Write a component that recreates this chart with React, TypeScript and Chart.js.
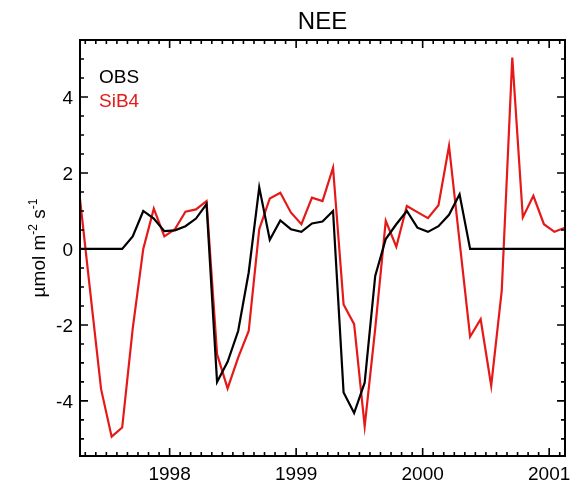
import React, { useEffect, useRef } from "react";
import { Chart, registerables } from "chart.js";

Chart.register(...registerables);

const months = [
  "1997-04", "1997-05", "1997-06", "1997-07", "1997-08", "1997-09", "1997-10", "1997-11", "1997-12",
  "1998-01", "1998-02", "1998-03", "1998-04", "1998-05", "1998-06", "1998-07", "1998-08", "1998-09", "1998-10", "1998-11", "1998-12",
  "1999-01", "1999-02", "1999-03", "1999-04", "1999-05", "1999-06", "1999-07", "1999-08", "1999-09", "1999-10", "1999-11", "1999-12",
  "2000-01", "2000-02", "2000-03", "2000-04", "2000-05", "2000-06", "2000-07", "2000-08", "2000-09", "2000-10", "2000-11", "2000-12",
  "2001-01", "2001-02",
];

const obs = [
  0, 0, 0, 0, 0, 0.33, 1.0, 0.8, 0.47,
  0.49, 0.6, 0.8, 1.18, -3.5, -2.97, -2.16, -0.62, 1.62, 0.24, 0.75, 0.52,
  0.45, 0.67, 0.72, 1.0, -3.78, -4.32, -3.52, -0.71, 0.26, 0.65, 1.0, 0.56,
  0.45, 0.6, 0.9, 1.44, 0, 0, 0, 0, 0, 0, 0, 0,
  0, 0,
];

const sib4 = [
  1.31, -1.2, -3.69, -4.94, -4.7, -2.1, 0.0, 1.06, 0.33,
  0.52, 0.98, 1.04, 1.26, -2.77, -3.67, -2.86, -2.16, 0.52, 1.33, 1.48, 0.96,
  0.65, 1.35, 1.26, 2.14, -1.46, -1.98, -4.67, -2.1, 0.74, 0.06, 1.13, 0.97,
  0.81, 1.15, 2.71, 0.2, -2.31, -1.85, -3.6, -1.1, 5.04, 0.83, 1.4, 0.65,
  0.45, 0.56,
];

const xTickLabels = ["1998", "1999", "2000", "2001"];
const yTickLabels = ["-4", "-2", "0", "2", "4"];

const seriesNames = ["OBS", "SiB4"];
const RED = "#e61919";
const FONT = '"Liberation Sans", Arial, Helvetica, sans-serif';

function toYear(m: string): number {
  const [y, mo] = m.split("-").map(Number);
  return y + (mo - 1 + 0.5) / 12;
}

const framePlugin = {
  id: "idlFrame",
  beforeDraw(chart: any) {
    const ctx = chart.ctx;
    ctx.save();
    ctx.fillStyle = "#ffffff";
    ctx.fillRect(0, 0, chart.width, chart.height);
    ctx.restore();
  },
  afterDatasetsDraw(chart: any) {
    const ctx = chart.ctx as CanvasRenderingContext2D;
    const { left, right, top, bottom } = chart.chartArea;
    const xs = chart.scales.x;
    const ys = chart.scales.y;
    ctx.save();
    ctx.strokeStyle = "#000";
    ctx.lineWidth = 2;
    ctx.lineCap = "butt";
    ctx.strokeRect(left, top, right - left, bottom - top);

    const major = 8;
    const minor = 4;
    ctx.lineWidth = 1.6;
    ctx.beginPath();
    // x ticks (monthly minor, yearly major)
    for (let yr = 1997; yr <= 2001; yr++) {
      for (let m = 0; m < 12; m++) {
        const v = yr + m / 12;
        if (v < xs.min - 1e-6 || v > xs.max + 1e-6) continue;
        const px = xs.getPixelForValue(v);
        const len = m === 0 ? major : minor;
        ctx.moveTo(px, bottom);
        ctx.lineTo(px, bottom - len);
        ctx.moveTo(px, top);
        ctx.lineTo(px, top + len);
      }
    }
    // y ticks (0.5 minor, 2 major)
    for (let i = -12; i <= 12; i++) {
      const v = i * 0.5;
      if (v < ys.min - 1e-6 || v > ys.max + 1e-6) continue;
      const py = ys.getPixelForValue(v);
      const len = i % 4 === 0 ? major : minor;
      ctx.moveTo(left, py);
      ctx.lineTo(left + len, py);
      ctx.moveTo(right, py);
      ctx.lineTo(right - len, py);
    }
    ctx.stroke();

    // tick labels
    ctx.fillStyle = "#000";
    ctx.font = `19px ${FONT}`;
    ctx.textAlign = "center";
    ctx.textBaseline = "alphabetic";
    xTickLabels.forEach((t) => {
      const px = xs.getPixelForValue(Number(t));
      ctx.fillText(t, px, bottom + 24);
    });
    ctx.textAlign = "right";
    yTickLabels.forEach((t) => {
      const py = ys.getPixelForValue(Number(t));
      ctx.fillText(t, left - 7, py + 7);
    });

    // title
    ctx.textAlign = "center";
    ctx.font = `24px ${FONT}`;
    ctx.fillText("NEE", (left + right) / 2, 29);

    // legend
    ctx.textAlign = "left";
    ctx.font = `19px ${FONT}`;
    ctx.fillStyle = "#000";
    ctx.fillText(seriesNames[0], left + 19, 83);
    ctx.fillStyle = RED;
    ctx.fillText(seriesNames[1], left + 19, 107);

    // y axis title with superscripts
    ctx.fillStyle = "#000";
    const parts: [string, boolean][] = [
      ["\u00b5mol m", false],
      ["-2", true],
      [" s", false],
      ["-1", true],
    ];
    const big = `19px ${FONT}`;
    const small = `12px ${FONT}`;
    let total = 0;
    parts.forEach(([t, sup]) => {
      ctx.font = sup ? small : big;
      total += ctx.measureText(t).width;
    });
    ctx.translate(45, (top + bottom) / 2);
    ctx.rotate(-Math.PI / 2);
    let cx = -total / 2;
    ctx.textAlign = "left";
    parts.forEach(([t, sup]) => {
      ctx.font = sup ? small : big;
      ctx.fillText(t, cx, sup ? -8 : 0);
      cx += ctx.measureText(t).width;
    });
    ctx.restore();
  },
};

export default function App() {
  const ref = useRef<HTMLCanvasElement | null>(null);

  useEffect(() => {
    document.body.style.margin = "0";
    const canvas = ref.current;
    if (!canvas) return;
    const xVals = months.map(toYear);
    const chart = new Chart(canvas, {
      type: "line",
      data: {
        datasets: [
          {
            label: seriesNames[0],
            data: xVals.map((x, i) => ({ x, y: obs[i] })),
            borderColor: "#000000",
            borderWidth: 2.2,
            pointRadius: 0,
            tension: 0,
          },
          {
            label: seriesNames[1],
            data: xVals.map((x, i) => ({ x, y: sib4[i] })),
            borderColor: RED,
            borderWidth: 2.2,
            pointRadius: 0,
            tension: 0,
          },
        ],
      },
      options: {
        responsive: false,
        animation: false,
        devicePixelRatio: 1,
        layout: { padding: { left: 80, right: 15, top: 40, bottom: 30 } },
        plugins: {
          legend: { display: false },
          title: { display: false },
          tooltip: { enabled: false },
        },
        scales: {
          x: {
            type: "linear",
            min: xVals[0],
            max: xVals[xVals.length - 1],
            ticks: { display: false },
            grid: { display: false, drawTicks: false },
            border: { display: false },
            afterFit: (s: any) => {
              s.height = 0;
            },
          },
          y: {
            type: "linear",
            min: -5.45,
            max: 5.5,
            ticks: { display: false },
            grid: { display: false, drawTicks: false },
            border: { display: false },
            afterFit: (s: any) => {
              s.width = 0;
            },
          },
        },
      },
      plugins: [framePlugin],
    });
    return () => chart.destroy();
  }, []);

  return <canvas ref={ref} width={580} height={486} style={{ display: "block" }} />;
}
